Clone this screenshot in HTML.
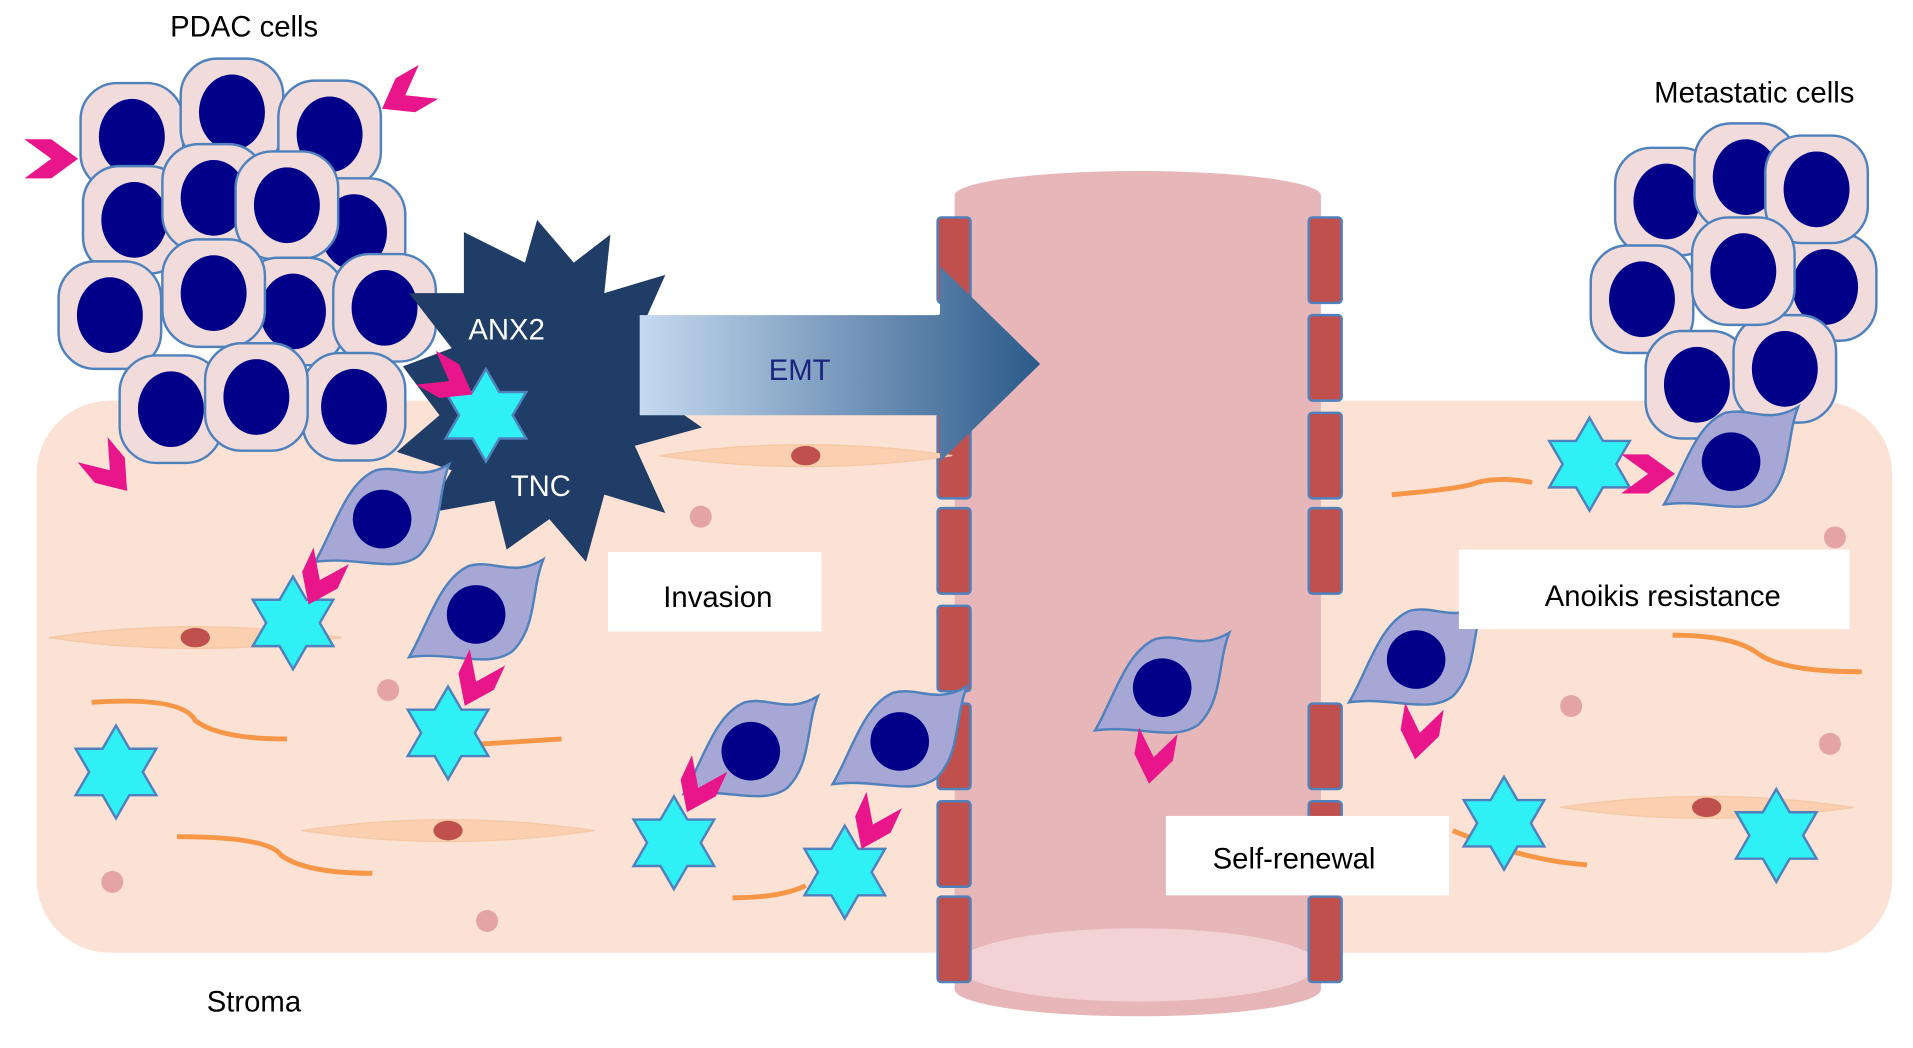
<!DOCTYPE html>
<html><head><meta charset="utf-8"><style>html,body{margin:0;padding:0;background:#fff}svg{display:block}text{font-family:"Liberation Sans",sans-serif}</style></head><body>
<svg width="1913" height="1048" viewBox="0 0 1567 858" preserveAspectRatio="none" xmlns="http://www.w3.org/2000/svg">
<defs>
<linearGradient id="emt" x1="0" x2="1" y1="0" y2="0"><stop offset="0" stop-color="#c6daf0"/><stop offset="1" stop-color="#2c5a8a"/></linearGradient>
<g id="c"><rect x="-42" y="-44" width="84" height="88" rx="30" fill="#f2dcdb" stroke="#4f81bd" stroke-width="2"/><ellipse rx="27" ry="31" fill="#000088"/></g>
<g id="m"><path d="M-55,35 C-40,10 -30,-30 -5,-40 C15,-45 30,-30 55,-45 C45,-20 50,10 30,30 C10,45 -20,30 -55,35 Z" fill="#a7a7d6" stroke="#4f81bd" stroke-width="2"/><circle r="24" fill="#000088"/></g>
<g id="s"><polygon points="0,-38 11,-19 33,-19 22,0 33,19 11,19 0,38 -11,19 -33,19 -22,0 -33,-19 -11,-19" fill="#2ff0f5" stroke="#4f81bd" stroke-width="2"/></g>
<g id="v"><path d="M-16,-22 L0,0 L16,-22 L16,0 L0,22 L-16,0 Z" fill="#e8168a"/></g>
<g id="f"><path d="M-120,0 Q0,-18 120,0 Q0,18 -120,0 Z" fill="#fad0b0" stroke="#f5c7a5"/><ellipse rx="12" ry="8" fill="#c0504d"/></g>
</defs>
<rect x="30" y="328" width="1520" height="452" rx="60" fill="#fbe2d5"/>
<rect x="782" y="160" width="300" height="650" fill="#e6b6b8"/>
<ellipse cx="932" cy="160" rx="150" ry="20" fill="#e6b6b8"/>
<ellipse cx="932" cy="810" rx="150" ry="22" fill="#e6b6b8"/>
<ellipse cx="932" cy="790" rx="148" ry="30" fill="#f2d2d4"/>
<g fill="#c0504d" stroke="#4f81bd" stroke-width="2">
<rect x="768" y="178" width="27" height="70" rx="3"/><rect x="768" y="258" width="27" height="70" rx="3"/><rect x="768" y="338" width="27" height="70" rx="3"/><rect x="768" y="416" width="27" height="70" rx="3"/><rect x="768" y="496" width="27" height="70" rx="3"/><rect x="768" y="576" width="27" height="70" rx="3"/><rect x="768" y="656" width="27" height="70" rx="3"/><rect x="768" y="734" width="27" height="70" rx="3"/>
<rect x="1072" y="178" width="27" height="70" rx="3"/><rect x="1072" y="258" width="27" height="70" rx="3"/><rect x="1072" y="338" width="27" height="70" rx="3"/><rect x="1072" y="416" width="27" height="70" rx="3"/><rect x="1072" y="576" width="27" height="70" rx="3"/><rect x="1072" y="656" width="27" height="70" rx="3"/><rect x="1072" y="734" width="27" height="70" rx="3"/>
</g>
<g fill="none" stroke="#f79646" stroke-width="4">
<path d="M75,575 Q150,570 160,590 Q180,605 235,605"/><path d="M145,685 Q220,685 230,700 Q250,715 305,715"/><path d="M380,610 L460,605"/><path d="M600,735 Q640,735 660,725"/><path d="M1140,405 Q1200,400 1210,395 Q1230,390 1255,395"/><path d="M1370,520 Q1420,520 1440,535 Q1460,550 1525,550"/><path d="M1190,680 Q1250,705 1300,708"/>
</g>
<use href="#f" x="660" y="373"/><use href="#f" x="160" y="522"/><use href="#f" x="367" y="680"/><use href="#f" x="1398" y="661"/>
<g fill="#e4a4a4"><circle cx="574" cy="423" r="9"/><circle cx="318" cy="565" r="9"/><circle cx="92" cy="722" r="9"/><circle cx="399" cy="754" r="9"/><circle cx="1503" cy="440" r="9"/><circle cx="1287" cy="578" r="9"/><circle cx="1499" cy="609" r="9"/></g>
<use href="#c" x="108" y="112"/><use href="#c" x="190" y="92"/><use href="#c" x="270" y="110"/><use href="#c" x="290" y="190"/><use href="#c" x="110" y="180"/><use href="#c" x="175" y="162"/><use href="#c" x="235" y="168"/><use href="#c" x="90" y="258"/><use href="#c" x="240" y="255"/><use href="#c" x="175" y="240"/><use href="#c" x="315" y="252"/><use href="#c" x="140" y="335"/><use href="#c" x="290" y="333"/><use href="#c" x="210" y="325"/>
<polygon points="380,190 430,215 440,180 470,215 500,192 495,240 545,225 525,270 570,285 525,315 575,350 520,365 545,420 495,405 480,460 450,425 415,450 405,410 350,420 370,385 325,370 360,340 330,300 370,285 335,240 380,240" fill="#1f3d66"/>
<text x="415" y="278" font-size="24" fill="#fff" text-anchor="middle">ANX2</text>
<text x="443" y="406" font-size="24" fill="#fff" text-anchor="middle">TNC</text>
<use href="#s" x="398" y="340"/>
<use href="#v" transform="translate(368,312) rotate(-60)"/>
<polygon points="524,258 770,258 770,218 852,298 770,378 770,340 524,340" fill="url(#emt)"/>
<text x="655" y="311" font-size="24" fill="#1a237e" text-anchor="middle">EMT</text>
<use href="#c" x="1365" y="165"/><use href="#c" x="1430" y="145"/><use href="#c" x="1345" y="245"/><use href="#c" x="1495" y="235"/><use href="#c" x="1390" y="315"/><use href="#c" x="1462" y="302"/><use href="#c" x="1488" y="155"/><use href="#c" x="1428" y="222"/>
<use href="#m" x="313" y="425"/><use href="#m" x="390" y="503"/><use href="#m" x="615" y="615"/><use href="#m" x="737" y="607"/><use href="#m" x="952" y="563"/><use href="#m" x="1160" y="540"/><use href="#m" x="1418" y="378"/>
<use href="#s" x="240" y="510"/><use href="#s" x="367" y="600"/><use href="#s" x="95" y="632"/><use href="#s" x="552" y="690"/><use href="#s" x="692" y="714"/><use href="#s" x="1302" y="380"/><use href="#s" x="1232" y="674"/><use href="#s" x="1455" y="684"/>
<use href="#v" transform="translate(42,130) rotate(-90)"/><use href="#v" transform="translate(332,78) rotate(60)"/><use href="#v" transform="translate(90,385) rotate(-40)"/>
<use href="#v" transform="translate(262,475) rotate(25)"/><use href="#v" transform="translate(390,558) rotate(25)"/><use href="#v" transform="translate(572,645) rotate(25)"/><use href="#v" transform="translate(715,675) rotate(25)"/><use href="#v" transform="translate(945,620) rotate(10)"/><use href="#v" transform="translate(1163,600) rotate(10)"/><use href="#v" transform="translate(1350,388) rotate(-90)"/>
<rect x="498" y="452" width="175" height="65" fill="#fff"/><text x="588" y="497" font-size="24" text-anchor="middle">Invasion</text>
<rect x="1195" y="450" width="320" height="65" fill="#fff"/><text x="1362" y="496" font-size="24" text-anchor="middle">Anoikis resistance</text>
<rect x="955" y="668" width="232" height="65" fill="#fff"/><text x="1060" y="711" font-size="24" text-anchor="middle">Self-renewal</text>
<text x="200" y="30" font-size="24" text-anchor="middle">PDAC cells</text>
<text x="1437" y="84" font-size="24" text-anchor="middle">Metastatic cells</text>
<text x="208" y="828" font-size="24" text-anchor="middle">Stroma</text>
</svg>
</body></html>
